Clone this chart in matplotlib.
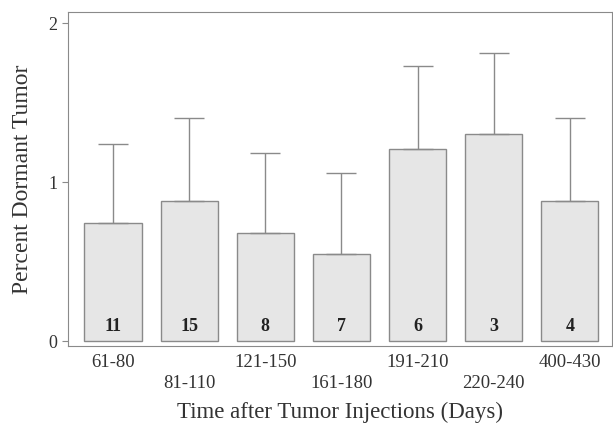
import matplotlib
matplotlib.use("Agg")
import matplotlib.pyplot as plt

groups = ["61-80", "81-110", "121-150", "161-180", "191-210", "220-240", "400-430"]
percent = [0.74, 0.88, 0.68, 0.55, 1.21, 1.30, 0.88]
err_upper = [0.50, 0.52, 0.50, 0.51, 0.52, 0.51, 0.52]
counts = [11, 15, 8, 7, 6, 3, 4]

plt.rcParams['font.family'] = ['Liberation Serif', 'DejaVu Serif']

fig = plt.figure(figsize=(6.13, 4.25), dpi=100)
ax = fig.add_axes([0.111, 0.186, 0.887, 0.786])

x = list(range(len(groups)))
ax.bar(x, percent, width=0.75, color="#e6e6e6", edgecolor="#8a8a8a", linewidth=1.0,
       yerr=[[0]*len(err_upper), err_upper], error_kw=dict(ecolor="#8a8a8a", elinewidth=1.0,
                                                        capsize=10.5, capthick=1.0))
for i, n in enumerate(counts):
    ax.text(i, 0.09, str(n), ha="center", va="center", fontsize=13, fontweight="bold", color="#222222")

ax.set_xlim(-0.59, 6.55)
ax.set_ylim(-0.03, 2.07)
ax.set_yticks([0, 1, 2])
ax.set_xticks(x)
# staggered labels: every second one goes on a lower line
labels = [g if i % 2 == 0 else "\n" + g for i, g in enumerate(groups)]
ax.set_xticklabels(labels, fontsize=13.5, color="#333333", linespacing=1.3)
ax.tick_params(axis="x", length=0, pad=6)
ax.tick_params(axis="y", length=4, color="#8a8a8a", labelsize=13, labelcolor="#333333")
for s in ax.spines.values():
    s.set_color("#8a8a8a")
ax.set_xlabel("Time after Tumor Injections (Days)", fontsize=16.5, color="#333333", labelpad=7)
ax.set_ylabel("Percent Dormant Tumor", fontsize=17, color="#333333", labelpad=11)

fig.savefig("out.png", dpi=100)
